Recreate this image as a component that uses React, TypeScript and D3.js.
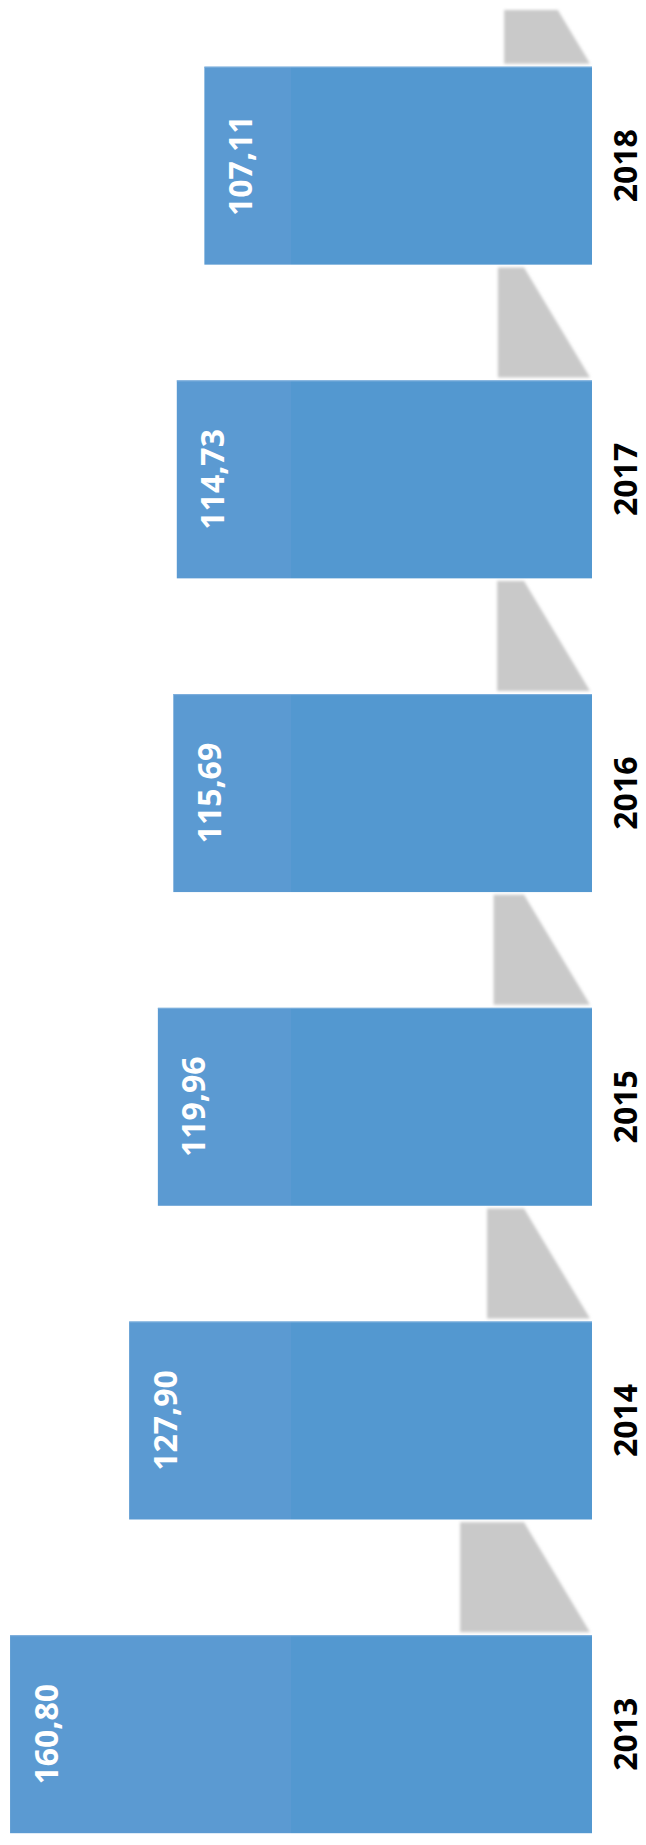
import React from "react";
import * as d3 from "d3";

const years = ["2013", "2014", "2015", "2016", "2017", "2018"];
const values = [160.8, 127.9, 119.96, 115.69, 114.73, 107.11];
const valueLabels = ["160,80", "127,90", "119,96", "115,69", "114,73", "107,11"];

const W = 646;
const H = 1845;

export default function App() {
  const baseline = 592;
  const x = d3.scaleLinear().domain([0, 160]).range([baseline, baseline - 160 * 3.619]);
  const order = [...years].reverse();
  const y = d3
    .scaleBand<string>()
    .domain(order)
    .range([66.7, 1833.2])
    .paddingInner(0.369)
    .paddingOuter(0);
  const bw = y.bandwidth();
  const splitX = 291;
  const shadowRatio = 0.2266;
  const slope = 0.6;

  return (
    <svg
      width={W}
      height={H}
      style={{ position: "absolute", left: 0, top: 0, background: "#fff" }}
      xmlns="http://www.w3.org/2000/svg"
    >
      <defs>
        <filter id="blur" x="-10%" y="-10%" width="120%" height="120%">
          <feGaussianBlur stdDeviation="1.6" />
        </filter>
      </defs>
      <rect x={0} y={0} width={W} height={H} fill="#fff" />
      {years.map((yr, i) => {
        const top = y(yr)!;
        const v = values[i];
        const bottomY = top - 3;
        const topY = Math.max(top - 113, 10);
        const leftX = x(v * shadowRatio);
        const rightBottom = baseline - 2;
        const rightTop = rightBottom - slope * (bottomY - topY);
        const path = d3.path();
        path.moveTo(leftX, topY);
        path.lineTo(rightTop, topY);
        path.lineTo(rightBottom, bottomY);
        path.lineTo(leftX, bottomY);
        path.closePath();
        return (
          <path key={"s" + yr} d={path.toString()} fill="#C9C9C9" filter="url(#blur)" />
        );
      })}
      {years.map((yr, i) => {
        const top = y(yr)!;
        const v = values[i];
        const left = x(v);
        return (
          <g key={"b" + yr}>
            <rect x={left} y={top} width={Math.max(0, splitX - left)} height={bw} fill="#5B9AD2" />
            <rect x={splitX} y={top} width={baseline - splitX} height={bw} fill="#5398D0" />
            <line x1={left} x2={baseline} y1={top + 0.5} y2={top + 0.5} stroke="#7FB0DD" strokeWidth={1} />
          </g>
        );
      })}
      {years.map((yr, i) => {
        const cy = y(yr)! + bw / 2;
        const cx = x(values[i]) + 35;
        return (
          <text
            key={"v" + yr}
            transform={`translate(${cx},${cy}) rotate(-90)`}
            textAnchor="middle"
            dominantBaseline="central"
            fill="#fff"
            fontFamily="'Open Sans', sans-serif"
            fontWeight={700}
            fontSize={32}
          >
            {valueLabels[i]}
          </text>
        );
      })}
      {years.map((yr) => {
        const cy = y(yr)! + bw / 2;
        return (
          <text
            key={"y" + yr}
            transform={`translate(${624},${cy}) rotate(-90)`}
            textAnchor="middle"
            dominantBaseline="central"
            fill="#000"
            fontFamily="'Open Sans', sans-serif"
            fontWeight={700}
            fontSize={32}
          >
            {yr}
          </text>
        );
      })}
    </svg>
  );
}
